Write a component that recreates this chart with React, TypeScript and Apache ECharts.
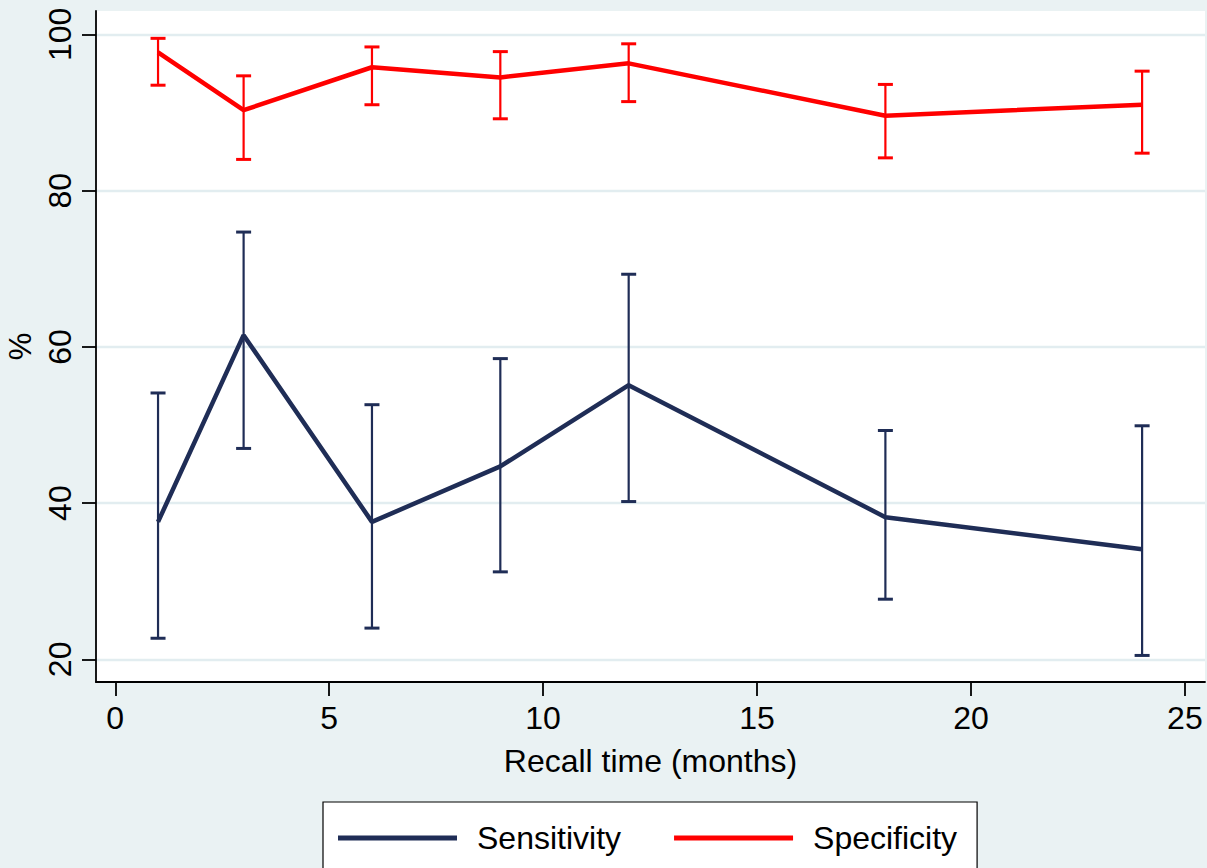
import React, { useEffect, useRef } from "react";
import * as echarts from "echarts";

const months = [1, 3, 6, 9, 12, 18, 24];
const sensitivity = [37.6, 61.5, 37.6, 44.7, 55.1, 38.2, 34.1];
const sensLower = [22.7, 47.0, 24.0, 31.2, 40.2, 27.7, 20.5];
const sensUpper = [54.1, 74.7, 52.6, 58.5, 69.3, 49.3, 49.9];
const specificity = [97.7, 90.3, 95.8, 94.5, 96.3, 89.6, 91.0];
const specLower = [93.5, 84.0, 91.0, 89.2, 91.4, 84.2, 84.8];
const specUpper = [99.5, 94.7, 98.4, 97.8, 98.8, 93.6, 95.3];
const xTicks = [0, 5, 10, 15, 20, 25];
const yTicks = [20, 40, 60, 80, 100];
const seriesNames = ["Sensitivity", "Specificity"];
const xTitle = "Recall time (months)";
const yTitle = "%";

const NAVY = "#1F2D56";
const RED = "#FF0000";
const BG = "#EAF2F3";
const FONT = "Liberation Sans";

function errorBars(name: string, lo: number[], hi: number[], color: string) {
  return {
    name: name + " CI",
    type: "custom",
    clip: false,
    z: 2,
    encode: { x: 0, y: [1, 2] },
    data: months.map((m, i) => [m, lo[i], hi[i]]),
    renderItem: (params: any, api: any) => {
      const x = api.value(0);
      const pLo = api.coord([x, api.value(1)]);
      const pHi = api.coord([x, api.value(2)]);
      const hw = 7.5;
      const st = { stroke: color, lineWidth: 2.2 };
      const cap = { stroke: color, lineWidth: 3 };
      return {
        type: "group",
        children: [
          { type: "line", shape: { x1: pLo[0], y1: pLo[1], x2: pHi[0], y2: pHi[1] }, style: st },
          { type: "line", shape: { x1: pLo[0] - hw, y1: pLo[1], x2: pLo[0] + hw, y2: pLo[1] }, style: cap },
          { type: "line", shape: { x1: pHi[0] - hw, y1: pHi[1], x2: pHi[0] + hw, y2: pHi[1] }, style: cap },
        ],
      };
    },
  };
}

export default function App() {
  const ref = useRef<HTMLDivElement>(null);
  useEffect(() => {
    if (!ref.current) return;
    const chart = echarts.init(ref.current, null, { renderer: "svg" });
    chart.setOption({
      animation: false,
      backgroundColor: BG,
      textStyle: { fontFamily: FONT },
      grid: {
        left: 96,
        right: 2,
        top: 11,
        bottom: 186,
        show: true,
        backgroundColor: "#FFFFFF",
        borderWidth: 0,
        containLabel: false,
        outerBoundsMode: "none",
      },
      legend: {
        data: seriesNames,
        left: 323,
        top: 802,
        icon: "rect",
        itemWidth: 119,
        itemHeight: 5,
        itemGap: 53,
        padding: [20, 20, 20, 15],
        backgroundColor: "#FFFFFF",
        borderColor: "#000000",
        borderWidth: 1.2,
        borderRadius: 0,
        textStyle: {
          fontSize: 32,
          color: "#000000",
          fontFamily: FONT,
          padding: [0, 0, 0, 15],
        },
      },
      xAxis: {
        type: "value",
        min: -0.45,
        max: 25.47,
        name: xTitle,
        nameLocation: "middle",
        nameGap: 63,
        nameTextStyle: { fontSize: 32, color: "#000", fontFamily: FONT },
        axisLine: { show: true, onZero: false, lineStyle: { color: "#000", width: 1.8 } },
        axisTick: { show: true, length: 14, customValues: xTicks, lineStyle: { color: "#000", width: 1.8 } },
        axisLabel: {
          show: true,
          customValues: xTicks,
          margin: 20,
          fontSize: 32,
          color: "#000",
          fontFamily: FONT,
        },
        splitLine: { show: false },
      },
      yAxis: {
        type: "value",
        min: 17.1,
        max: 103,
        name: yTitle,
        nameLocation: "middle",
        nameRotate: 90,
        nameGap: 58,
        nameTextStyle: { fontSize: 31, color: "#000", fontFamily: FONT },
        axisLine: { show: true, onZero: false, lineStyle: { color: "#000", width: 1.8 } },
        axisTick: { show: true, length: 14, customValues: yTicks, lineStyle: { color: "#000", width: 1.8 } },
        axisLabel: {
          show: true,
          customValues: yTicks,
          rotate: 90,
          margin: 20,
          fontSize: 32,
          color: "#000",
          fontFamily: FONT,
        },
        splitLine: { show: true, lineStyle: { color: "#E2EDF0", width: 2.4 } },
      },
      series: [
        errorBars(seriesNames[0], sensLower, sensUpper, NAVY),
        errorBars(seriesNames[1], specLower, specUpper, RED),
        {
          name: seriesNames[0],
          type: "line",
          z: 3,
          color: NAVY,
          showSymbol: false,
          symbol: "none",
          lineStyle: { color: NAVY, width: 4.5 },
          itemStyle: { color: NAVY },
          data: months.map((m, i) => [m, sensitivity[i]]),
        },
        {
          name: seriesNames[1],
          type: "line",
          z: 3,
          color: RED,
          showSymbol: false,
          symbol: "none",
          lineStyle: { color: RED, width: 4.5 },
          itemStyle: { color: RED },
          data: months.map((m, i) => [m, specificity[i]]),
        },
      ],
    });
    return () => chart.dispose();
  }, []);
  return (
    <div
      ref={ref}
      style={{ position: "fixed", left: 0, top: 0, width: "1207px", height: "868px" }}
    />
  );
}
